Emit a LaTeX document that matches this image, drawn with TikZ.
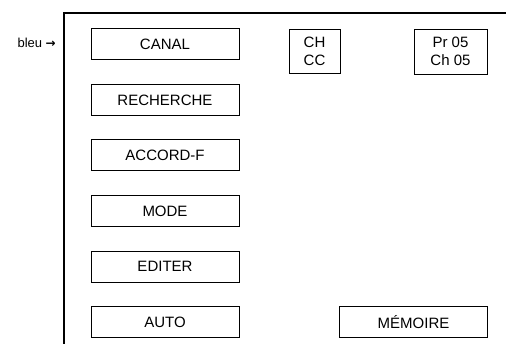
\documentclass[tikz,border=0pt]{standalone}
\usepackage{fontspec}
\setmainfont{Liberation Sans}
\newfontfamily\arrowfont{DejaVu Sans}
\begin{document}
\begin{tikzpicture}[x=1pt,y=-1pt,
  btn/.style={draw,line width=0.9pt,minimum width=148pt,minimum height=31pt,inner sep=0pt,font=\fontsize{15}{17}\selectfont},
  disp/.style={draw,line width=0.9pt,inner sep=0pt,align=center,font=\fontsize{15}{18}\selectfont}]
\useasboundingbox (0,0) rectangle (506,344);
\draw[line width=1.2pt] (64,344) -- (64,13) -- (506,13);
\node[btn] (canal) at (165,44) {CANAL};
\node[btn] (rech) at (165,100) {RECHERCHE};
\node[btn] (acc) at (165,155) {ACCORD-F};
\node[btn] (mode) at (165,211) {MODE};
\node[btn] (edit) at (165,266.5) {EDITER};
\node[btn] (auto) at (165,322) {AUTO};
\node[btn] (mem) at (413.5,322) {MÉMOIRE};
\node[disp,minimum width=51pt,minimum height=44pt] (ch) at (314.5,51) {CH\\CC};
\node[disp,minimum width=73pt,minimum height=45pt] (pr) at (450.5,51.5) {Pr 05\\Ch 05};
\node[font=\fontsize{13}{15}\selectfont,anchor=east,inner sep=0pt] (bleu) at (56,43) {bleu {\arrowfont\fontsize{12}{14}\selectfont\bfseries →}};
\end{tikzpicture}
\end{document}
